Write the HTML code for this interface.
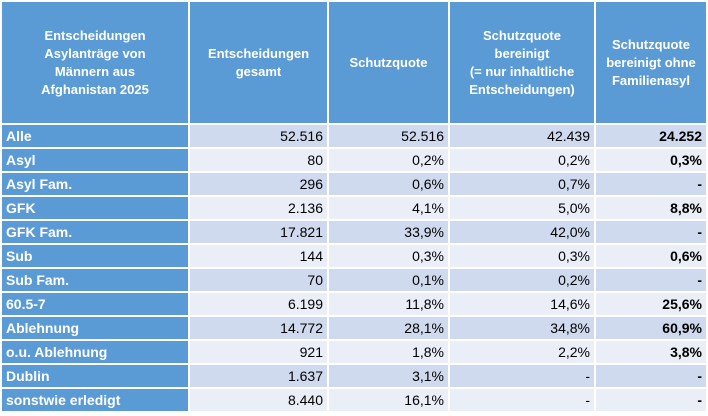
<!DOCTYPE html>
<html><head><style>
body{margin:0;width:708px;height:416px;background:#fff;overflow:hidden;font-family:"Liberation Sans",sans-serif;}
table{border-collapse:separate;border-spacing:2px;position:absolute;left:0;top:0;table-layout:fixed;}
td{padding:0 4px;font-size:14px;color:#000;height:22px;line-height:22px;white-space:nowrap;overflow:hidden;}
th{background:#5b9bd5;color:#fff;font-size:13px;font-weight:bold;height:121px;line-height:18px;padding:0 3px;}
td.h{background:#5b9bd5;color:#fff;font-weight:bold;text-align:left;}
tr.a td{background:#cfdaee}
tr.b td{background:#e9eef7}
tr td.h{background:#5b9bd5}
td.r{text-align:right}
td.bd{font-weight:bold;text-align:right}
</style></head><body>
<table>
<colgroup><col style="width:186px"><col style="width:137px"><col style="width:119px"><col style="width:144px"><col style="width:110px"></colgroup>
<tr><th>Entscheidungen<br>Asylanträge von<br>Männern aus<br>Afghanistan 2025</th><th>Entscheidungen<br>gesamt</th><th>Schutzquote</th><th>Schutzquote<br>bereinigt<br>(= nur inhaltliche<br>Entscheidungen)</th><th>Schutzquote<br>bereinigt ohne<br>Familienasyl</th></tr>
<tr class="a"><td class="h">Alle</td><td class="r">52.516</td><td class="r">52.516</td><td class="r">42.439</td><td class="bd">24.252</td></tr>
<tr class="b"><td class="h">Asyl</td><td class="r">80</td><td class="r">0,2%</td><td class="r">0,2%</td><td class="bd">0,3%</td></tr>
<tr class="a"><td class="h">Asyl Fam.</td><td class="r">296</td><td class="r">0,6%</td><td class="r">0,7%</td><td class="bd">-</td></tr>
<tr class="b"><td class="h">GFK</td><td class="r">2.136</td><td class="r">4,1%</td><td class="r">5,0%</td><td class="bd">8,8%</td></tr>
<tr class="a"><td class="h">GFK Fam.</td><td class="r">17.821</td><td class="r">33,9%</td><td class="r">42,0%</td><td class="bd">-</td></tr>
<tr class="b"><td class="h">Sub</td><td class="r">144</td><td class="r">0,3%</td><td class="r">0,3%</td><td class="bd">0,6%</td></tr>
<tr class="a"><td class="h">Sub Fam.</td><td class="r">70</td><td class="r">0,1%</td><td class="r">0,2%</td><td class="bd">-</td></tr>
<tr class="b"><td class="h">60.5-7</td><td class="r">6.199</td><td class="r">11,8%</td><td class="r">14,6%</td><td class="bd">25,6%</td></tr>
<tr class="a"><td class="h">Ablehnung</td><td class="r">14.772</td><td class="r">28,1%</td><td class="r">34,8%</td><td class="bd">60,9%</td></tr>
<tr class="b"><td class="h">o.u. Ablehnung</td><td class="r">921</td><td class="r">1,8%</td><td class="r">2,2%</td><td class="bd">3,8%</td></tr>
<tr class="a"><td class="h">Dublin</td><td class="r">1.637</td><td class="r">3,1%</td><td class="r">-</td><td class="bd">-</td></tr>
<tr class="b"><td class="h">sonstwie erledigt</td><td class="r">8.440</td><td class="r">16,1%</td><td class="r">-</td><td class="bd">-</td></tr>
</table>
</body></html>
